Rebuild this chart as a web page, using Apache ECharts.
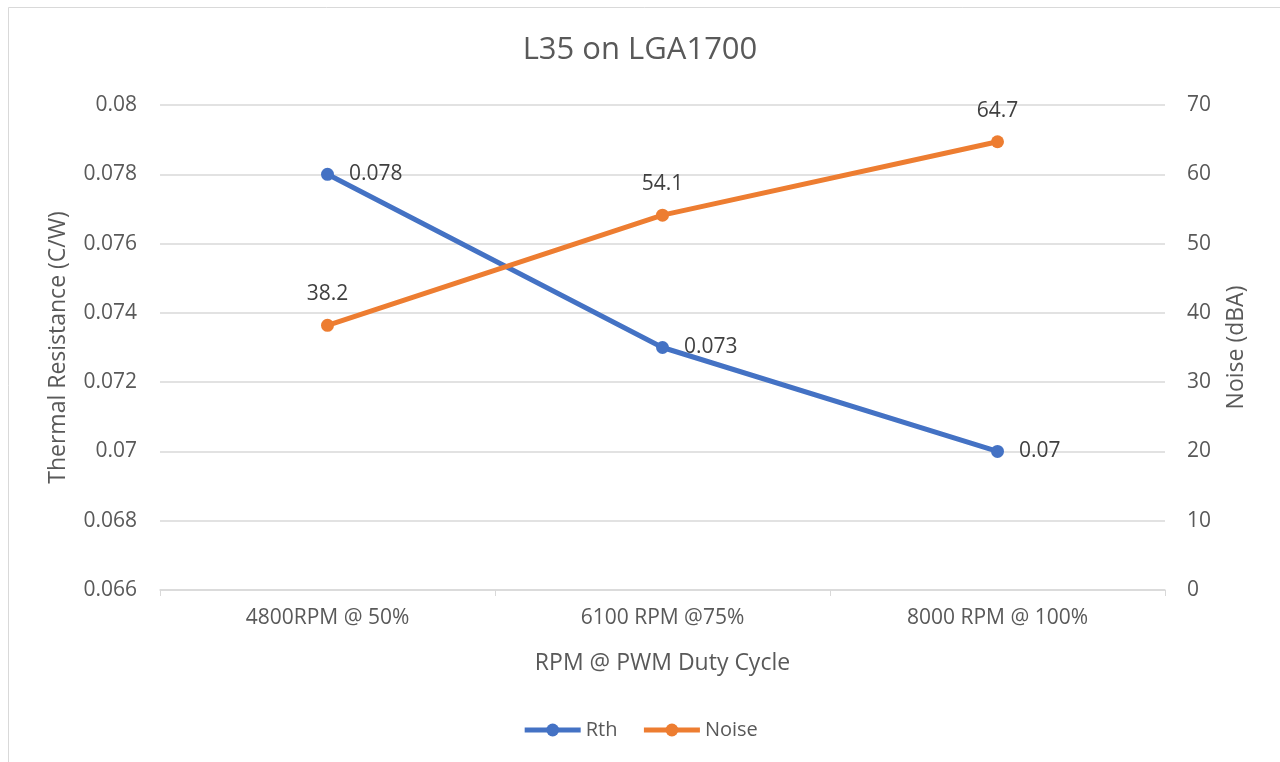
<!DOCTYPE html>
<html>
<head>
<meta charset="utf-8">
<script src="https://cdn.jsdelivr.net/npm/echarts@6/dist/echarts.min.js"></script>
<style>html,body{margin:0;padding:0;background:#fff;}#c{width:1280px;height:762px;}</style>
</head>
<body>
<div id="c"></div>
<script>
const categories = ['4800RPM @ 50%', '6100 RPM @75%', '8000 RPM @ 100%'];
const rthValues = [0.078, 0.073, 0.07];
const noiseValues = [38.2, 54.1, 64.7];
const leftTicks = {min: 0.066, max: 0.08, interval: 0.002};
const rightTicks = {min: 0, max: 70, interval: 10};

const font = '"Open Sans", "Noto Sans", sans-serif';
const chart = echarts.init(document.getElementById('c'));
chart.setOption({
  animation: false,
  backgroundColor: '#fff',
  textStyle: {fontFamily: font},
  graphic: [{
    type: 'rect', shape: {x: 8.5, y: 7.5, width: 1290, height: 800},
    style: {fill: 'none', stroke: '#d9d9d9', lineWidth: 1}, silent: true
  }],
  title: {
    text: 'L35 on LGA1700', left: 'center', top: 30,
    textStyle: {fontFamily: font, fontSize: 31, fontWeight: 'normal', color: '#595959'}
  },
  legend: {
    bottom: 17, left: 'center', itemWidth: 56, itemHeight: 16, itemGap: 24,
    lineStyle: {width: 5},
    textStyle: {fontFamily: font, fontSize: 20, color: '#595959'},
    data: ['Rth', 'Noise']
  },
  grid: {left: 160, right: 115, top: 105, bottom: 172},
  xAxis: {
    type: 'category', data: categories, boundaryGap: true,
    name: 'RPM @ PWM Duty Cycle', nameLocation: 'middle', nameGap: 62,
    nameTextStyle: {fontFamily: font, fontSize: 23, color: '#595959'},
    axisLine: {lineStyle: {color: '#d9d9d9', width: 1.5}},
    axisTick: {show: true, alignWithLabel: false, length: 6, lineStyle: {color: '#d9d9d9'}},
    axisLabel: {fontFamily: font, fontSize: 21, color: '#595959', margin: 18}
  },
  yAxis: [{
    type: 'value', min: leftTicks.min, max: leftTicks.max, interval: leftTicks.interval,
    name: 'Thermal Resistance (C/W)', nameLocation: 'middle', nameGap: 90, nameRotate: 90,
    nameTextStyle: {fontFamily: font, fontSize: 23, color: '#595959'},
    axisLine: {show: false}, axisTick: {show: false},
    splitLine: {lineStyle: {color: '#d9d9d9', width: 1.5}},
    axisLabel: {fontFamily: font, fontSize: 21, color: '#595959', margin: 23,
      formatter: v => String(parseFloat(v.toFixed(3)))}
  }, {
    type: 'value', min: rightTicks.min, max: rightTicks.max, interval: rightTicks.interval,
    name: 'Noise (dBA)', nameLocation: 'middle', nameGap: 60, nameRotate: 90,
    nameTextStyle: {fontFamily: font, fontSize: 23, color: '#595959'},
    axisLine: {show: false}, axisTick: {show: false}, splitLine: {show: false},
    axisLabel: {fontFamily: font, fontSize: 21, color: '#595959', margin: 22}
  }],
  series: [{
    name: 'Rth', type: 'line', yAxisIndex: 0, data: rthValues,
    symbol: 'circle', symbolSize: 13,
    lineStyle: {color: '#4472C4', width: 5}, itemStyle: {color: '#4472C4'},
    label: {show: true, position: 'right', distance: 15, fontFamily: font, fontSize: 21, color: '#404040'}
  }, {
    name: 'Noise', type: 'line', yAxisIndex: 1, data: noiseValues,
    symbol: 'circle', symbolSize: 13,
    lineStyle: {color: '#ED7D31', width: 5}, itemStyle: {color: '#ED7D31'},
    label: {show: true, position: 'top', distance: 14, fontFamily: font, fontSize: 21, color: '#404040'}
  }]
});
</script>
</body>
</html>
